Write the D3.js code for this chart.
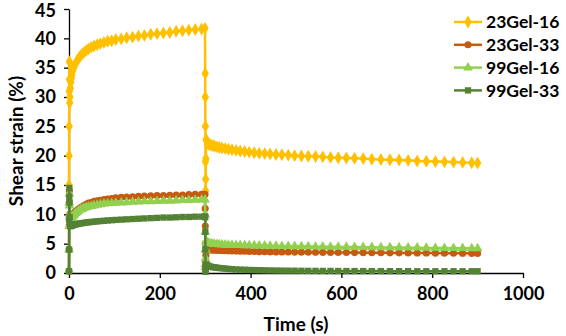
<!DOCTYPE html>
<html>
<head>
<meta charset="utf-8">
<script src="https://cdn.jsdelivr.net/npm/d3@7"></script>
<style>
  body { margin: 0; background: #fff; }
  text { font-family: Lato, "Open Sans", sans-serif; font-weight: bold; fill: #000; }
</style>
</head>
<body>
<script>
// time points (s), creep 0-300 then recovery 300-900
var time = [0, 0.2, 0.4, 0.6, 0.8, 1, 1.5, 2, 3, 4, 5, 6, 8, 10, 12, 15, 18, 21, 25, 29, 33, 38, 43, 49, 55, 62, 69, 77, 85, 94,
  103, 115, 127, 140, 153, 166, 180, 194, 208, 222, 236, 250, 264, 278, 292, 299.5,
  300, 300.2, 300.4, 300.6, 300.8, 301, 301.5, 302, 303, 304, 305, 307, 310, 313, 317, 321, 326, 331, 337, 344,
  351, 359, 368, 377, 387, 397, 408, 419, 431, 443, 456, 469, 483, 497, 512, 527, 543, 559, 576, 593,
  611, 629, 648, 667, 687, 707, 727, 747, 767, 787, 807, 827, 847, 867, 887, 900];

var gel23_16 = [15, 20, 25, 31, 36, 33, 29, 30, 31.5, 32.5, 33.2, 33.7, 34.4, 34.9, 35.3, 35.8, 36.2, 36.6, 37.0, 37.3, 37.6, 37.9, 38.2, 38.5, 38.7, 38.9, 39.1, 39.3, 39.5, 39.6,
  39.8, 39.9, 40.1, 40.2, 40.4, 40.5, 40.7, 40.8, 40.9, 41.0, 41.2, 41.3, 41.4, 41.5, 41.6, 41.7,
  34, 30, 25, 19, 14, 16, 19.5, 22.8, 22.6, 22.4, 22.2, 22.0, 21.9, 21.8, 21.7, 21.6, 21.5, 21.4, 21.3, 21.2,
  21.1, 21.0, 20.9, 20.8, 20.7, 20.6, 20.5, 20.4, 20.35, 20.3, 20.2, 20.15, 20.1, 20.0, 19.95, 19.9, 19.85, 19.8, 19.7, 19.65,
  19.6, 19.55, 19.5, 19.4, 19.35, 19.3, 19.25, 19.2, 19.1, 19.05, 19.0, 18.95, 18.9, 18.85, 18.8, 18.75];

var gel23_33 = [0.3, 4, 8, 12, 14, 12, 10, 9.6, 9.5, 9.5, 9.6, 9.7, 9.9, 10.1, 10.3, 10.5, 10.7, 10.9, 11.1, 11.3, 11.5, 11.7, 11.9, 12.0, 12.2, 12.3, 12.4, 12.5, 12.6, 12.7,
  12.8, 12.9, 12.95, 13.0, 13.05, 13.1, 13.15, 13.2, 13.2, 13.25, 13.3, 13.3, 13.35, 13.4, 13.4, 13.4,
  11, 8, 5, 2, 0.5, 1.5, 3, 4.2, 4.15, 4.1, 4.05, 4.0, 3.95, 3.93, 3.9, 3.88, 3.86, 3.84, 3.82, 3.8,
  3.78, 3.76, 3.74, 3.72, 3.7, 3.68, 3.66, 3.64, 3.62, 3.6, 3.59, 3.58, 3.57, 3.56, 3.55, 3.54, 3.53, 3.52, 3.51, 3.5,
  3.49, 3.48, 3.47, 3.46, 3.45, 3.44, 3.43, 3.42, 3.41, 3.4, 3.39, 3.38, 3.37, 3.36, 3.35, 3.35];

var gel99_16 = [0.5, 4, 8, 12, 13.5, 11.5, 10, 9.6, 9.4, 9.4, 9.4, 9.5, 9.6, 9.8, 10.0, 10.2, 10.4, 10.6, 10.8, 10.9, 11.1, 11.2, 11.3, 11.4, 11.5, 11.6, 11.7, 11.8, 11.85, 11.9,
  11.95, 12.0, 12.05, 12.1, 12.15, 12.2, 12.2, 12.25, 12.3, 12.3, 12.35, 12.4, 12.4, 12.45, 12.5, 12.5,
  10, 7, 4, 1.5, 1, 2.5, 4, 5.3, 5.25, 5.2, 5.15, 5.1, 5.05, 5.0, 4.95, 4.92, 4.9, 4.88, 4.85, 4.82,
  4.8, 4.78, 4.76, 4.74, 4.72, 4.7, 4.68, 4.66, 4.64, 4.62, 4.6, 4.58, 4.56, 4.55, 4.54, 4.52, 4.5, 4.48, 4.46, 4.45,
  4.44, 4.42, 4.4, 4.38, 4.36, 4.35, 4.34, 4.32, 4.3, 4.28, 4.26, 4.25, 4.24, 4.22, 4.2, 4.2];

var gel99_33 = [0.3, 4, 9, 13, 14.5, 12, 9.5, 8.3, 8.0, 8.0, 8.05, 8.1, 8.15, 8.2, 8.25, 8.3, 8.35, 8.4, 8.45, 8.5, 8.55, 8.6, 8.65, 8.7, 8.75, 8.8, 8.85, 8.9, 8.95, 9.0,
  9.05, 9.1, 9.15, 9.2, 9.25, 9.3, 9.35, 9.4, 9.45, 9.45, 9.5, 9.55, 9.55, 9.6, 9.6, 9.65,
  9.5, 7, 4, 1, 0.2, 0.8, 1.3, 1.4, 1.35, 1.3, 1.25, 1.2, 1.1, 1.05, 1.0, 0.95, 0.9, 0.85, 0.8, 0.75,
  0.7, 0.65, 0.6, 0.58, 0.55, 0.52, 0.5, 0.48, 0.46, 0.44, 0.42, 0.41, 0.4, 0.39, 0.38, 0.37, 0.36, 0.35, 0.35, 0.34,
  0.34, 0.33, 0.33, 0.32, 0.32, 0.31, 0.31, 0.31, 0.3, 0.3, 0.3, 0.3, 0.3, 0.3, 0.3, 0.3];

var xTicks = [0, 200, 400, 600, 800, 1000];
var yTicks = [0, 5, 10, 15, 20, 25, 30, 35, 40, 45];

var series = [
  {name: "23Gel-16", values: gel23_16, color: "#FFC000", symbol: d3.symbolDiamond, size: 48},
  {name: "23Gel-33", values: gel23_33, color: "#C55A11", symbol: d3.symbolCircle, size: 40},
  {name: "99Gel-16", values: gel99_16, color: "#92D050", symbol: d3.symbolTriangle, size: 42},
  {name: "99Gel-33", values: gel99_33, color: "#548235", symbol: d3.symbolSquare, size: 40}
];

//---------setup plot-----------------------//
var W = 566, H = 336;
var margin = {top: 9, right: 43, bottom: 63, left: 69};
var width = W - margin.left - margin.right,
    height = H - margin.top - margin.bottom;

var x = d3.scaleLinear().domain([0, 1000]).range([0, width]);
var y = d3.scaleLinear().domain([0, 45]).range([height, 0]);

var svg = d3.select("body").append("svg")
    .attr("width", W)
    .attr("height", H);

var g = svg.append("g")
    .attr("transform", "translate(" + margin.left + "," + margin.top + ")");

// x-axis
var gx = g.append("g")
    .attr("transform", "translate(0," + height + ")")
    .call(d3.axisBottom(x).tickValues(xTicks).tickFormat(d3.format("d"))
      .tickSize(5).tickPadding(9).tickSizeOuter(0));
// y-axis
var gy = g.append("g")
    .call(d3.axisLeft(y).tickValues(yTicks).tickFormat(d3.format("d"))
      .tickSize(5).tickPadding(8).tickSizeOuter(0));

[gx, gy].forEach(function(a) {
  a.select(".domain").attr("stroke", "#000").attr("stroke-width", 1.3);
  a.selectAll(".tick line").attr("stroke", "#000").attr("stroke-width", 1.3);
  a.selectAll(".tick text").style("font-size", "18px").attr("font-family", null);
});
// keep the top label inside the picture
gy.selectAll(".tick text").filter(function(d) { return d === 45; }).attr("dy", "0.4em");

// axis labels
svg.append("text")
    .attr("x", margin.left + x(500))
    .attr("y", 331)
    .attr("text-anchor", "middle")
    .style("font-size", "19px")
    .text("Time (s)");

svg.append("text")
    .attr("transform", "translate(23," + (margin.top + y(22.5)) + ") rotate(-90)")
    .attr("text-anchor", "middle")
    .style("font-size", "19px")
    .text("Shear strain (%)");

//-------------data----------//
var line = d3.line()
    .x(function(d, i) { return x(time[i]); })
    .y(function(d) { return y(d); });

series.forEach(function(s) {
  var sg = g.append("g").attr("class", "series");
  sg.append("path")
      .attr("d", line(s.values))
      .attr("fill", "none")
      .attr("stroke", s.color)
      .attr("stroke-width", 2.5);
  sg.selectAll("path.pt")
      .data(s.values)
      .enter().append("path")
      .attr("class", "pt")
      .attr("transform", function(d, i) { return "translate(" + x(time[i]) + "," + y(d) + ")"; })
      .attr("d", d3.symbol().type(s.symbol).size(s.size))
      .attr("fill", s.color);
});

// legend
var legend = svg.append("g").attr("transform", "translate(454,22)");
series.forEach(function(s, i) {
  var lg = legend.append("g").attr("transform", "translate(0," + (i * 22.8) + ")");
  lg.append("line")
      .attr("x1", 0).attr("x2", 28)
      .attr("stroke", s.color).attr("stroke-width", 2.5);
  lg.append("path")
      .attr("transform", "translate(14,0)")
      .attr("d", d3.symbol().type(s.symbol).size(s.size))
      .attr("fill", s.color);
  lg.append("text")
      .attr("x", 32)
      .attr("dy", "0.35em")
      .style("font-size", "17.5px")
      .text(s.name);
});
</script>
</body>
</html>
